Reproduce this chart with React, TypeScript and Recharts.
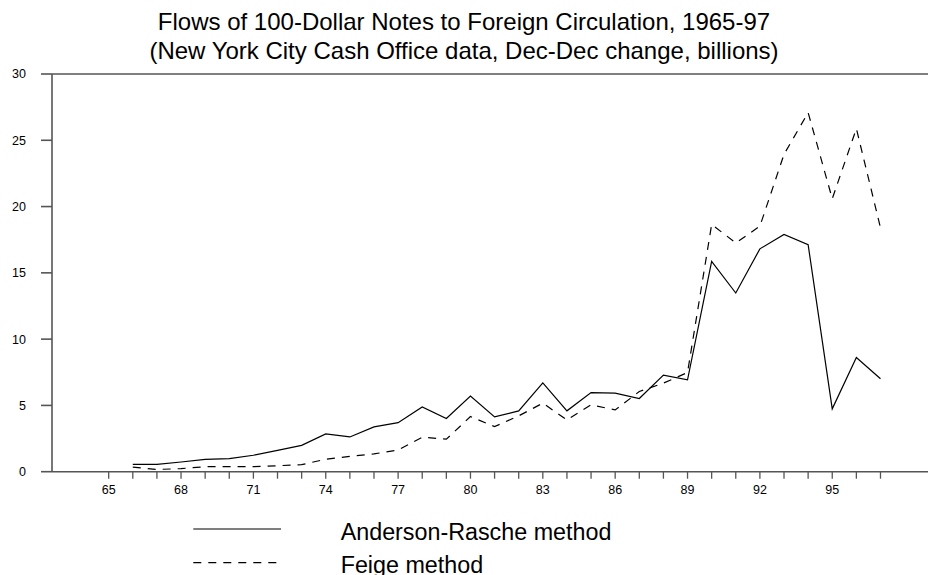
import React from "react";
import { LineChart, Line, XAxis, YAxis, ReferenceLine } from "recharts";

const years = [
  66, 67, 68, 69, 70, 71, 72, 73, 74, 75, 76, 77, 78, 79, 80, 81,
  82, 83, 84, 85, 86, 87, 88, 89, 90, 91, 92, 93, 94, 95, 96, 97,
];

const andersonRasche = [
  0.56, 0.55, 0.73, 0.93, 0.98, 1.24, 1.61, 1.99, 2.85, 2.62, 3.38, 3.7,
  4.89, 4.01, 5.7, 4.13, 4.59, 6.7, 4.59, 5.97, 5.92, 5.52, 7.28, 6.93,
  15.87, 13.48, 16.81, 17.89, 17.13, 4.74, 8.62, 7.01,
];

const feige = [
  0.35, 0.17, 0.23, 0.38, 0.38, 0.38, 0.45, 0.53, 0.94, 1.16, 1.34, 1.64,
  2.6, 2.45, 4.16, 3.4, 4.21, 5.17, 3.91, 5.04, 4.66, 6.05, 6.68, 7.48,
  18.65, 17.26, 18.52, 23.94, 27.09, 20.59, 25.88, 18.4,
];

const xTicks = [
  65, 66, 67, 68, 69, 70, 71, 72, 73, 74, 75, 76, 77, 78, 79, 80, 81,
  82, 83, 84, 85, 86, 87, 88, 89, 90, 91, 92, 93, 94, 95, 96, 97,
];
const yTicks = [0, 5, 10, 15, 20, 25, 30];

const titleLines = [
  "Flows of 100-Dollar Notes to Foreign Circulation, 1965-97",
  "(New York City Cash Office data, Dec-Dec change, billions)",
];

const series = [
  { key: "ar", name: "Anderson-Rasche method", dash: undefined },
  { key: "feige", name: "Feige method", dash: "8 7" },
];

const data = years.map((year, i) => ({
  year,
  ar: andersonRasche[i],
  feige: feige[i],
}));

const FONT = '"Liberation Sans", Arial, sans-serif';
const AXIS = "#555";

export default function App() {
  return (
    <div
      style={{
        position: "absolute",
        left: 0,
        top: 0,
        width: 928,
        height: 575,
        background: "#fff",
        fontFamily: FONT,
        overflow: "hidden",
      }}
    >
      <div
        style={{
          position: "absolute",
          left: 0,
          top: 6.7,
          width: 928,
          textAlign: "center",
          fontSize: 24,
          lineHeight: "29px",
          color: "#000",
        }}
      >
        {titleLines.map((t) => (
          <div key={t}>{t}</div>
        ))}
      </div>

      <div style={{ position: "absolute", left: 0, top: 0 }}>
        <LineChart
          width={928}
          height={575}
          data={data}
          margin={{ top: 74, right: 0, bottom: 73.3, left: 0 }}
        >
          <ReferenceLine y={30} stroke={AXIS} strokeWidth={1.6} />
          <XAxis
            dataKey="year"
            type="number"
            domain={[62.65, 98.97]}
            allowDataOverflow
            ticks={xTicks}
            interval={0}
            height={30}
            tickSize={7}
            tickMargin={6}
            tickFormatter={(v: number) => ((v - 65) % 3 === 0 ? String(v) : "")}
            tick={{ fontSize: 12.5, fill: "#000", fontFamily: FONT }}
            axisLine={{ stroke: AXIS, strokeWidth: 1.6 }}
            tickLine={{ stroke: AXIS, strokeWidth: 1.3 }}
          />
          <YAxis
            type="number"
            domain={[0, 30]}
            ticks={yTicks}
            interval={0}
            width={52}
            tickSize={11}
            tickMargin={15}
            tick={{ fontSize: 12.5, fill: "#000", fontFamily: FONT }}
            axisLine={{ stroke: AXIS, strokeWidth: 1.6 }}
            tickLine={{ stroke: AXIS, strokeWidth: 1.6 }}
          />
          {series.map((s) => (
            <Line
              key={s.key}
              dataKey={s.key}
              name={s.name}
              type="linear"
              stroke="#000"
              strokeWidth={1.2}
              strokeDasharray={s.dash}
              dot={false}
              activeDot={false}
              isAnimationActive={false}
            />
          ))}
        </LineChart>
      </div>

      <svg
        width={928}
        height={70}
        style={{ position: "absolute", left: 0, top: 505 }}
      >
        {series.map((s, i) => (
          <g key={s.key}>
            <line
              x1={193.3}
              x2={281}
              y1={24 + i * 33.7}
              y2={24 + i * 33.7}
              stroke="#000"
              strokeWidth={1.2}
              strokeDasharray={s.dash}
            />
            <text
              x={340.7}
              y={34.5 + i * 33.7}
              fontSize={23.3}
              fontFamily={FONT}
              fill="#000"
            >
              {s.name}
            </text>
          </g>
        ))}
      </svg>
    </div>
  );
}
